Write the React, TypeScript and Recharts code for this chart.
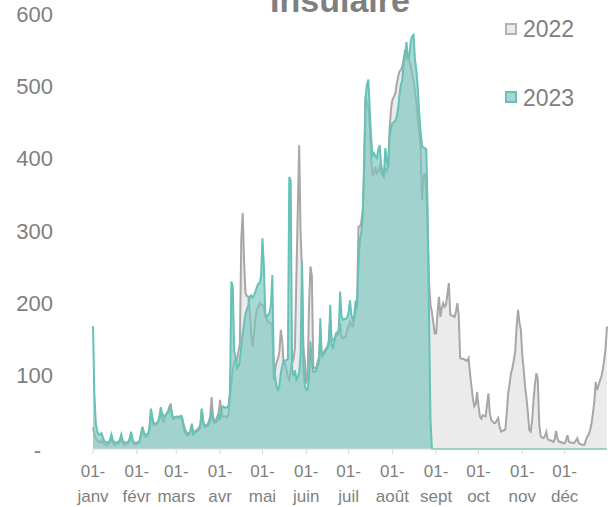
import { Area, AreaChart, Legend, XAxis, YAxis } from "recharts";

const MONTH_LABELS = ["janv", "févr", "mars", "avr", "mai", "juin", "juil", "août", "sept", "oct", "nov", "déc"];
const SERIES_LABELS = ["2022", "2023"];
const Y_TICKS = [0, 100, 200, 300, 400, 500, 600];

// 2022, daily values per month
const jan2022 = [30, 20, 15, 12, 10, 9, 12, 10, 7, 6, 6, 7, 9, 15, 9, 6, 6, 7, 8, 10, 16, 9, 6, 6, 7, 8, 12, 20, 10, 7, 7];
const feb2022 = [7, 8, 10, 18, 28, 20, 17, 17, 19, 27, 50, 38, 33, 33, 34, 36, 42, 52, 40, 38, 44, 48, 52, 58, 63, 45, 42, 44];
const mar2022 = [44, 44, 43, 45, 44, 36, 28, 24, 22, 22, 24, 33, 22, 24, 26, 27, 30, 33, 55, 38, 33, 33, 34, 38, 45, 72, 45, 38, 40, 45, 50];
const apr2022 = [68, 50, 45, 45, 45, 44, 48, 75, 90, 110, 120, 125, 123, 135, 146, 290, 327, 260, 216, 212, 211, 190, 160, 142, 160, 180, 193, 196, 202, 200];
const may2022 = [200, 197, 185, 179, 176, 175, 174, 170, 95, 110, 120, 125, 135, 165, 150, 119, 118, 110, 100, 96, 110, 119, 125, 140, 236, 330, 421, 300, 250, 140, 123];
const jun2022 = [91, 100, 200, 253, 240, 114, 112, 112, 120, 128, 150, 130, 132, 136, 139, 142, 150, 179, 150, 151, 153, 156, 158, 160, 175, 155, 153, 155, 156, 165];
const jul2022 = [170, 176, 172, 170, 180, 193, 200, 308, 308, 315, 330, 380, 488, 480, 474, 450, 400, 380, 382, 391, 382, 385, 391, 382, 380, 377, 391, 385, 390, 442, 470];
const aug2022 = [484, 488, 492, 505, 515, 523, 525, 530, 540, 553, 545, 540, 539, 530, 520, 510, 495, 480, 456, 440, 420, 345, 377, 382, 357, 300, 230, 200, 190, 175, 160];
const sep2022 = [160, 190, 211, 183, 195, 202, 197, 200, 215, 230, 186, 185, 184, 183, 190, 202, 185, 126, 125, 125, 124, 123, 122, 126, 105, 87, 70, 59, 62, 79];
const oct2022 = [60, 45, 42, 47, 46, 45, 60, 77, 50, 40, 38, 36, 36, 40, 43, 30, 24, 25, 26, 27, 50, 77, 90, 105, 112, 123, 135, 170, 193, 175, 165];
const nov2022 = [130, 110, 86, 70, 50, 26, 24, 40, 68, 90, 105, 96, 35, 18, 16, 15, 18, 24, 14, 12, 12, 11, 10, 14, 25, 14, 10, 10, 9, 8];
const dec2022 = [8, 12, 19, 10, 9, 9, 8, 9, 12, 15, 8, 7, 6, 6, 6, 12, 17, 20, 26, 35, 49, 65, 93, 82, 88, 95, 100, 110, 123, 140, 170];

// 2023, daily values per month (no data after late August -> 0)
const jan2023 = [170, 75, 35, 25, 20, 20, 22, 16, 11, 10, 9, 9, 12, 20, 13, 9, 9, 9, 10, 13, 20, 12, 9, 9, 9, 10, 15, 24, 14, 9, 9];
const feb2023 = [9, 9, 12, 22, 31, 24, 20, 20, 21, 30, 56, 45, 36, 35, 36, 38, 45, 58, 50, 45, 46, 49, 50, 55, 58, 48, 42, 44];
const mar2023 = [45, 45, 44, 46, 45, 31, 24, 20, 19, 20, 26, 35, 20, 22, 24, 25, 27, 30, 56, 40, 31, 31, 32, 34, 40, 54, 40, 36, 37, 39, 49];
const apr2023 = [40, 55, 59, 58, 57, 58, 60, 80, 232, 225, 135, 128, 112, 115, 123, 142, 160, 174, 188, 193, 200, 211, 213, 210, 213, 218, 224, 229, 230, 240];
const may2023 = [292, 255, 188, 183, 186, 188, 200, 241, 119, 100, 86, 82, 88, 105, 115, 123, 122, 123, 125, 377, 372, 110, 101, 109, 96, 100, 105, 130, 260, 120, 87];
const jun2023 = [82, 82, 100, 149, 120, 107, 107, 108, 115, 120, 181, 128, 130, 134, 137, 140, 145, 200, 145, 139, 150, 160, 162, 165, 218, 185, 179, 180, 180, 182];
const jul2023 = [190, 206, 185, 179, 185, 206, 195, 260, 290, 300, 322, 400, 488, 505, 512, 470, 430, 407, 410, 405, 403, 415, 421, 395, 385, 377, 417, 400, 391, 433, 445];
const aug2023 = [451, 453, 455, 460, 470, 490, 505, 511, 535, 545, 564, 540, 545, 565, 572, 574, 540, 525, 500, 465, 440, 420, 418, 417, 415, 330, 180, 40, 0, 0, 0];
const sep2023 = [0, 0, 0, 0, 0, 0, 0, 0, 0, 0, 0, 0, 0, 0, 0, 0, 0, 0, 0, 0, 0, 0, 0, 0, 0, 0, 0, 0, 0, 0];
const oct2023 = [0, 0, 0, 0, 0, 0, 0, 0, 0, 0, 0, 0, 0, 0, 0, 0, 0, 0, 0, 0, 0, 0, 0, 0, 0, 0, 0, 0, 0, 0, 0];
const nov2023 = [0, 0, 0, 0, 0, 0, 0, 0, 0, 0, 0, 0, 0, 0, 0, 0, 0, 0, 0, 0, 0, 0, 0, 0, 0, 0, 0, 0, 0, 0];
const dec2023 = [0, 0, 0, 0, 0, 0, 0, 0, 0, 0, 0, 0, 0, 0, 0, 0, 0, 0, 0, 0, 0, 0, 0, 0, 0, 0, 0, 0, 0, 0, 0];

const months2022 = [jan2022, feb2022, mar2022, apr2022, may2022, jun2022, jul2022, aug2022, sep2022, oct2022, nov2022, dec2022];
const months2023 = [jan2023, feb2023, mar2023, apr2023, may2023, jun2023, jul2023, aug2023, sep2023, oct2023, nov2023, dec2023];

const FONT = '"Liberation Sans", Arial, sans-serif';
const TEXT_COLOR = "#7f7f7f";
const GREY_LINE = "#aaa6a6";
const GREY_FILL = "#ebebeb";
const TEAL_LINE = "#66c2b6";
const TEAL_FILL = "#7cc6bd";
const AXIS_COLOR = "#d9d9d9";

const values2022 = months2022.flat();
const values2023 = months2023.flat();

const monthStarts: number[] = [];
months2022.reduce((start, month) => {
  monthStarts.push(start);
  return start + month.length;
}, 0);

const data = values2022.map((v, i) => ({ day: i, y2022: v, y2023: values2023[i] }));

const MonthTick = ({ x, y, payload }: any) => {
  const idx = monthStarts.indexOf(payload.value);
  return (
    <text x={x} y={y} textAnchor="middle" fill={TEXT_COLOR} fontSize={17} fontFamily={FONT}>
      <tspan x={x} y={y + 21}>01-</tspan>
      <tspan x={x} y={y + 46}>{MONTH_LABELS[idx]}</tspan>
    </text>
  );
};

const ValueTick = ({ y, payload }: any) => {
  const zero = payload.value === 0;
  return (
    <text
      x={zero ? 41 : 53}
      y={y + (zero ? 9 : 6)}
      textAnchor="end"
      fill={TEXT_COLOR}
      fontSize={22}
      fontFamily={FONT}
    >
      {zero ? "-" : payload.value}
    </text>
  );
};

const LEGEND_COLORS = [
  { fill: GREY_FILL, stroke: "#b5b2b2" },
  { fill: "#a8d5d1", stroke: TEAL_LINE },
];

const LegendContent = () => (
  <div style={{ position: "relative", width: 100, height: 100, fontFamily: FONT, color: TEXT_COLOR }}>
    {SERIES_LABELS.map((label, i) => (
      <div key={label}>
        <div
          style={{
            position: "absolute",
            left: 0,
            top: 6 + i * 68,
            width: 12,
            height: 12,
            boxSizing: "border-box",
            background: LEGEND_COLORS[i].fill,
            border: `2px solid ${LEGEND_COLORS[i].stroke}`,
          }}
        />
        <div style={{ position: "absolute", left: 18, top: 0.5 + i * 69, fontSize: 23, lineHeight: "23px" }}>
          {label}
        </div>
      </div>
    ))}
  </div>
);

export default function App() {
  return (
    <div style={{ position: "absolute", left: 0, top: 0 }}>
      <AreaChart width={614} height={507} data={data} margin={{ top: 16, right: 7, bottom: 0, left: 0 }}>
        <XAxis
          dataKey="day"
          type="number"
          domain={[0, values2022.length - 1]}
          ticks={monthStarts}
          interval={0}
          height={58}
          tickSize={5}
          stroke={AXIS_COLOR}
          tick={<MonthTick />}
        />
        <YAxis
          domain={[0, 600]}
          ticks={Y_TICKS}
          width={93}
          axisLine={false}
          tickLine={false}
          tick={<ValueTick />}
        />
        <Area
          type="linear"
          dataKey="y2022"
          stroke={GREY_LINE}
          strokeWidth={2}
          fill={GREY_FILL}
          fillOpacity={1}
          isAnimationActive={false}
          dot={false}
          activeDot={false}
        />
        <Area
          type="linear"
          dataKey="y2023"
          stroke={TEAL_LINE}
          strokeWidth={2}
          fill={TEAL_FILL}
          fillOpacity={0.66}
          isAnimationActive={false}
          dot={false}
          activeDot={false}
        />
        <Legend
          layout="horizontal"
          verticalAlign="middle"
          align="center"
          wrapperStyle={{ left: 505, top: 17, width: 100, height: 100 }}
          content={<LegendContent />}
        />
        <text x={340} y={12} textAnchor="middle" fontSize={34} fontWeight="bold" fill={TEXT_COLOR} fontFamily={FONT}>
          Insulaire
        </text>
      </AreaChart>
    </div>
  );
}
